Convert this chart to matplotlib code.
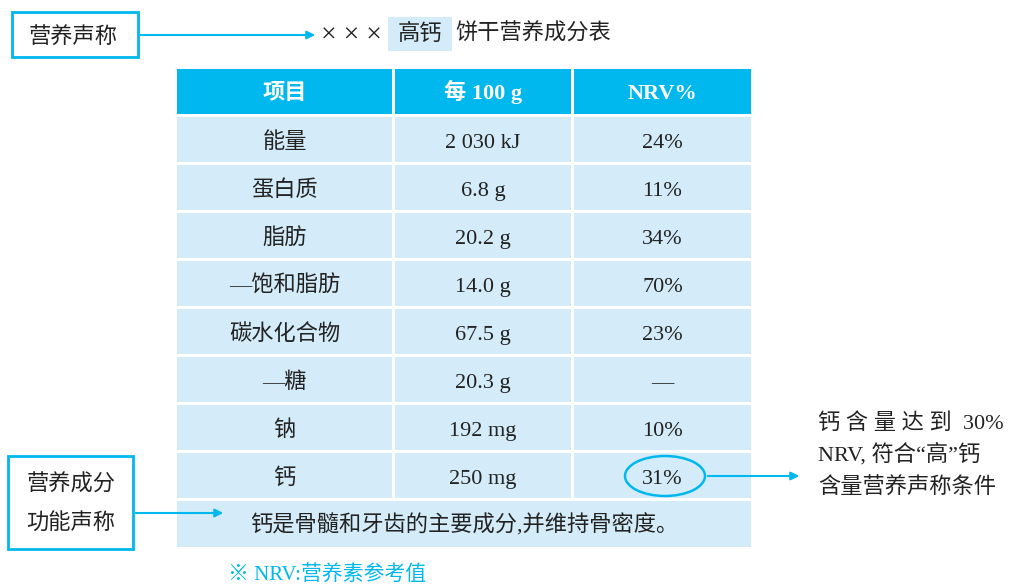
import matplotlib.pyplot as plt
from matplotlib.patches import Rectangle, Ellipse

plt.rcParams['font.family'] = ['Liberation Serif', 'Noto Sans CJK SC', 'DejaVu Sans']

# table data
headers = ['项目', '每 100 g', 'NRV%']
items = ['能量', '蛋白质', '脂肪', '—饱和脂肪', '碳水化合物', '—糖', '钠', '钙']
per_100g = ['2 030 kJ', '6.8 g', '20.2 g', '14.0 g', '67.5 g', '20.3 g', '192 mg', '250 mg']
nrv = ['24%', '11%', '34%', '70%', '23%', '—', '10%', '31%']
footer = '钙是骨髓和牙齿的主要成分,并维持骨密度。'
note = '※ NRV:营养素参考值'

CYAN = '#00b8ee'
LIGHT = '#d4ecf9'
TXT = '#222222'
FS = 16

fig = plt.figure(figsize=(10.14, 5.87), dpi=100)
ax = fig.add_axes([0, 0, 1, 1])
ax.set_xlim(0, 1014)
ax.set_ylim(587, 0)
ax.axis('off')


def put(x, y, s, ha='center', fs=FS, **kw):
    # y is the visual middle of the glyphs (pixels from top)
    kw.setdefault('color', TXT)
    ax.text(x, y + 0.36 * fs * 100 / 72, s, fontsize=fs, ha=ha, va='baseline', **kw)


cols = [(177, 392), (395, 571), (574, 751)]
row_top = 69
row_h = 48
gap = 3

# header
for (x0, x1), h in zip(cols, headers):
    ax.add_patch(Rectangle((x0, row_top), x1 - x0, row_h - gap, color=CYAN, lw=0))
    put((x0 + x1) / 2, row_top + 22, h, color='white', fontweight='bold')

# body rows
for i, row in enumerate(zip(items, per_100g, nrv)):
    y0 = row_top + (i + 1) * row_h
    for (x0, x1), val in zip(cols, row):
        ax.add_patch(Rectangle((x0, y0), x1 - x0, row_h - gap, color=LIGHT, lw=0))
        put((x0 + x1) / 2, y0 + 23, val)

# footer row
yf = row_top + (len(items) + 1) * row_h
ax.add_patch(Rectangle((177, yf), 751 - 177, row_h - 2, color=LIGHT, lw=0))
put(464, yf + 23, footer)

# title
put(351, 32, '× × ×', fs=20)
ax.add_patch(Rectangle((388, 17), 64, 34, color=LIGHT, lw=0))
put(420, 32, '高钙')
put(455, 32, '饼干营养成分表', ha='left')

# left box: 营养声称
ax.add_patch(Rectangle((12, 12), 126, 45, fill=False, ec=CYAN, lw=2))
put(73, 35, '营养声称')
ax.annotate('', xy=(318, 35), xytext=(138, 35),
            arrowprops=dict(arrowstyle='-|>', color=CYAN, lw=1.5, mutation_scale=12))

# left box: 营养成分 功能声称
ax.add_patch(Rectangle((8, 456), 125, 93, fill=False, ec=CYAN, lw=2))
put(71, 483, '营养成分')
put(71, 522, '功能声称')
ax.annotate('', xy=(226, 513), xytext=(133, 513),
            arrowprops=dict(arrowstyle='-|>', color=CYAN, lw=1.5, mutation_scale=12))

# ellipse around 31%
ax.add_patch(Ellipse((665, 476), 80, 40, fill=False, ec=CYAN, lw=1.8))
ax.annotate('', xy=(802, 476), xytext=(705, 476),
            arrowprops=dict(arrowstyle='-|>', color=CYAN, lw=1.5, mutation_scale=12))

# right note
put(818, 421, '钙 含 量 达 到  30%', ha='left')
put(818, 453, 'NRV, 符合“高”钙', ha='left')
put(818, 485, '含量营养声称条件', ha='left')

# footnote
put(228, 572, note, ha='left', fs=15, color=CYAN)

fig.savefig('out.png', dpi=100)
